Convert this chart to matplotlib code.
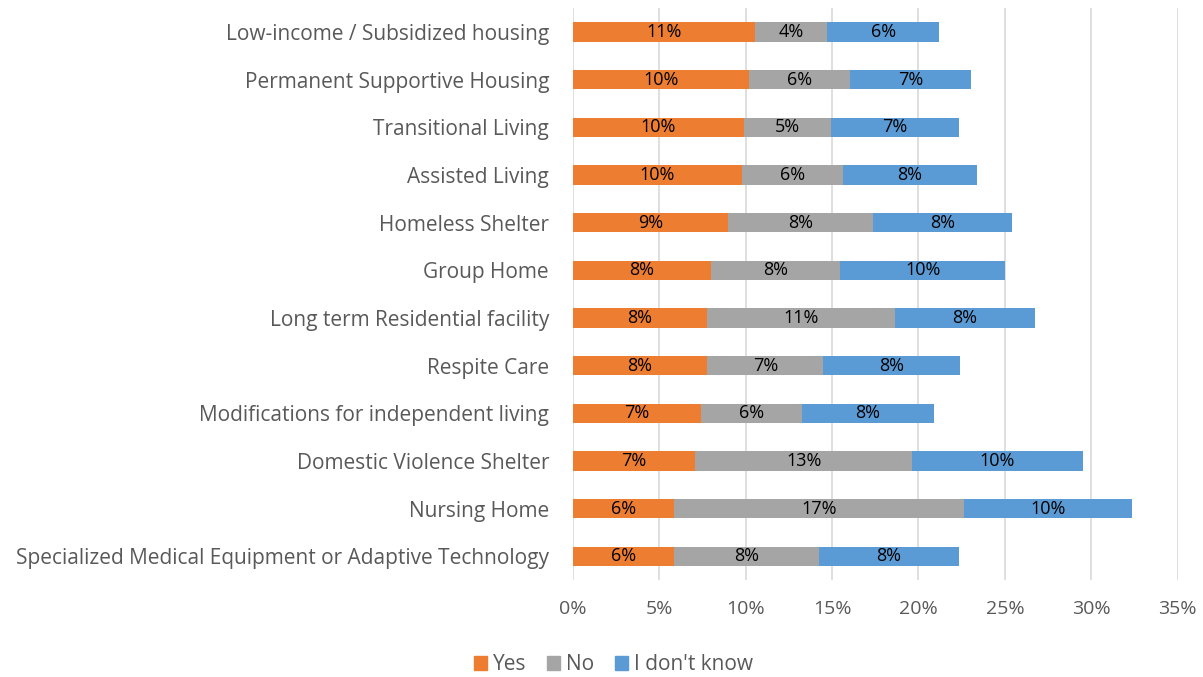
import matplotlib
matplotlib.use('Agg')
import matplotlib.pyplot as plt
import numpy as np
from matplotlib.patches import Patch

plt.rcParams['font.family'] = ['Open Sans', 'DejaVu Sans']

categories = ['Low-income / Subsidized housing', 'Permanent Supportive Housing',
              'Transitional Living', 'Assisted Living', 'Homeless Shelter',
              'Group Home', 'Long term Residential facility', 'Respite Care',
              'Modifications for independent living', 'Domestic Violence Shelter',
              'Nursing Home', 'Specialized Medical Equipment or Adaptive Technology']
yes = [10.54, 10.21, 9.92, 9.80, 9.00, 7.98, 7.80, 7.80, 7.41, 7.08, 5.88, 5.88]
no = [4.20, 5.86, 5.03, 5.82, 8.38, 7.51, 10.85, 6.69, 5.83, 12.56, 16.73, 8.39]
dont_know = [6.45, 6.95, 7.40, 7.75, 8.05, 9.54, 8.07, 7.91, 7.64, 9.87, 9.74, 8.07]
series_names = ['Yes', 'No', "I don't know"]
colors = ['#ED7D31', '#A5A5A5', '#5B9BD5']
xticks = [0, 5, 10, 15, 20, 25, 30, 35]

fig = plt.figure(figsize=(12.03, 6.77), dpi=100)
ax = fig.add_axes([0.476, 0.143, 0.503, 0.845])

y = np.arange(len(categories))
left = np.zeros(len(categories))
for vals, c in zip([yes, no, dont_know], colors):
    vals = np.array(vals)
    ax.barh(y, vals, left=left, height=0.41, color=c, zorder=3)
    for yi, l, v in zip(y, left, vals):
        ax.text(l + v / 2, yi, f'{round(v)}%', ha='center', va='center',
                fontsize=13, color='black', zorder=4)
    left = left + vals

ax.set_xlim(0, 35)
ax.set_ylim(len(categories) - 0.5, -0.5)
ax.set_xticks(xticks)
ax.set_xticklabels([f'{t}%' for t in xticks], fontsize=14, color='#595959')
ax.set_yticks(y)
ax.set_yticklabels(categories, fontsize=15, color='#595959')
ax.tick_params(axis='both', length=0)
ax.tick_params(axis='x', pad=14)
ax.tick_params(axis='y', pad=17)
ax.grid(axis='x', color='#D9D9D9', linewidth=1.2, zorder=0)
for s in ax.spines.values():
    s.set_visible(False)

handles = [Patch(color=c) for c in colors]
fig.legend(handles, series_names, loc='center', bbox_to_anchor=(0.51, 0.018),
           ncol=3, frameon=False, fontsize=15, handlelength=0.6, handleheight=0.6,
           handletextpad=0.3, columnspacing=1.0, labelcolor='#595959')

fig.savefig('out.png', dpi=100)
